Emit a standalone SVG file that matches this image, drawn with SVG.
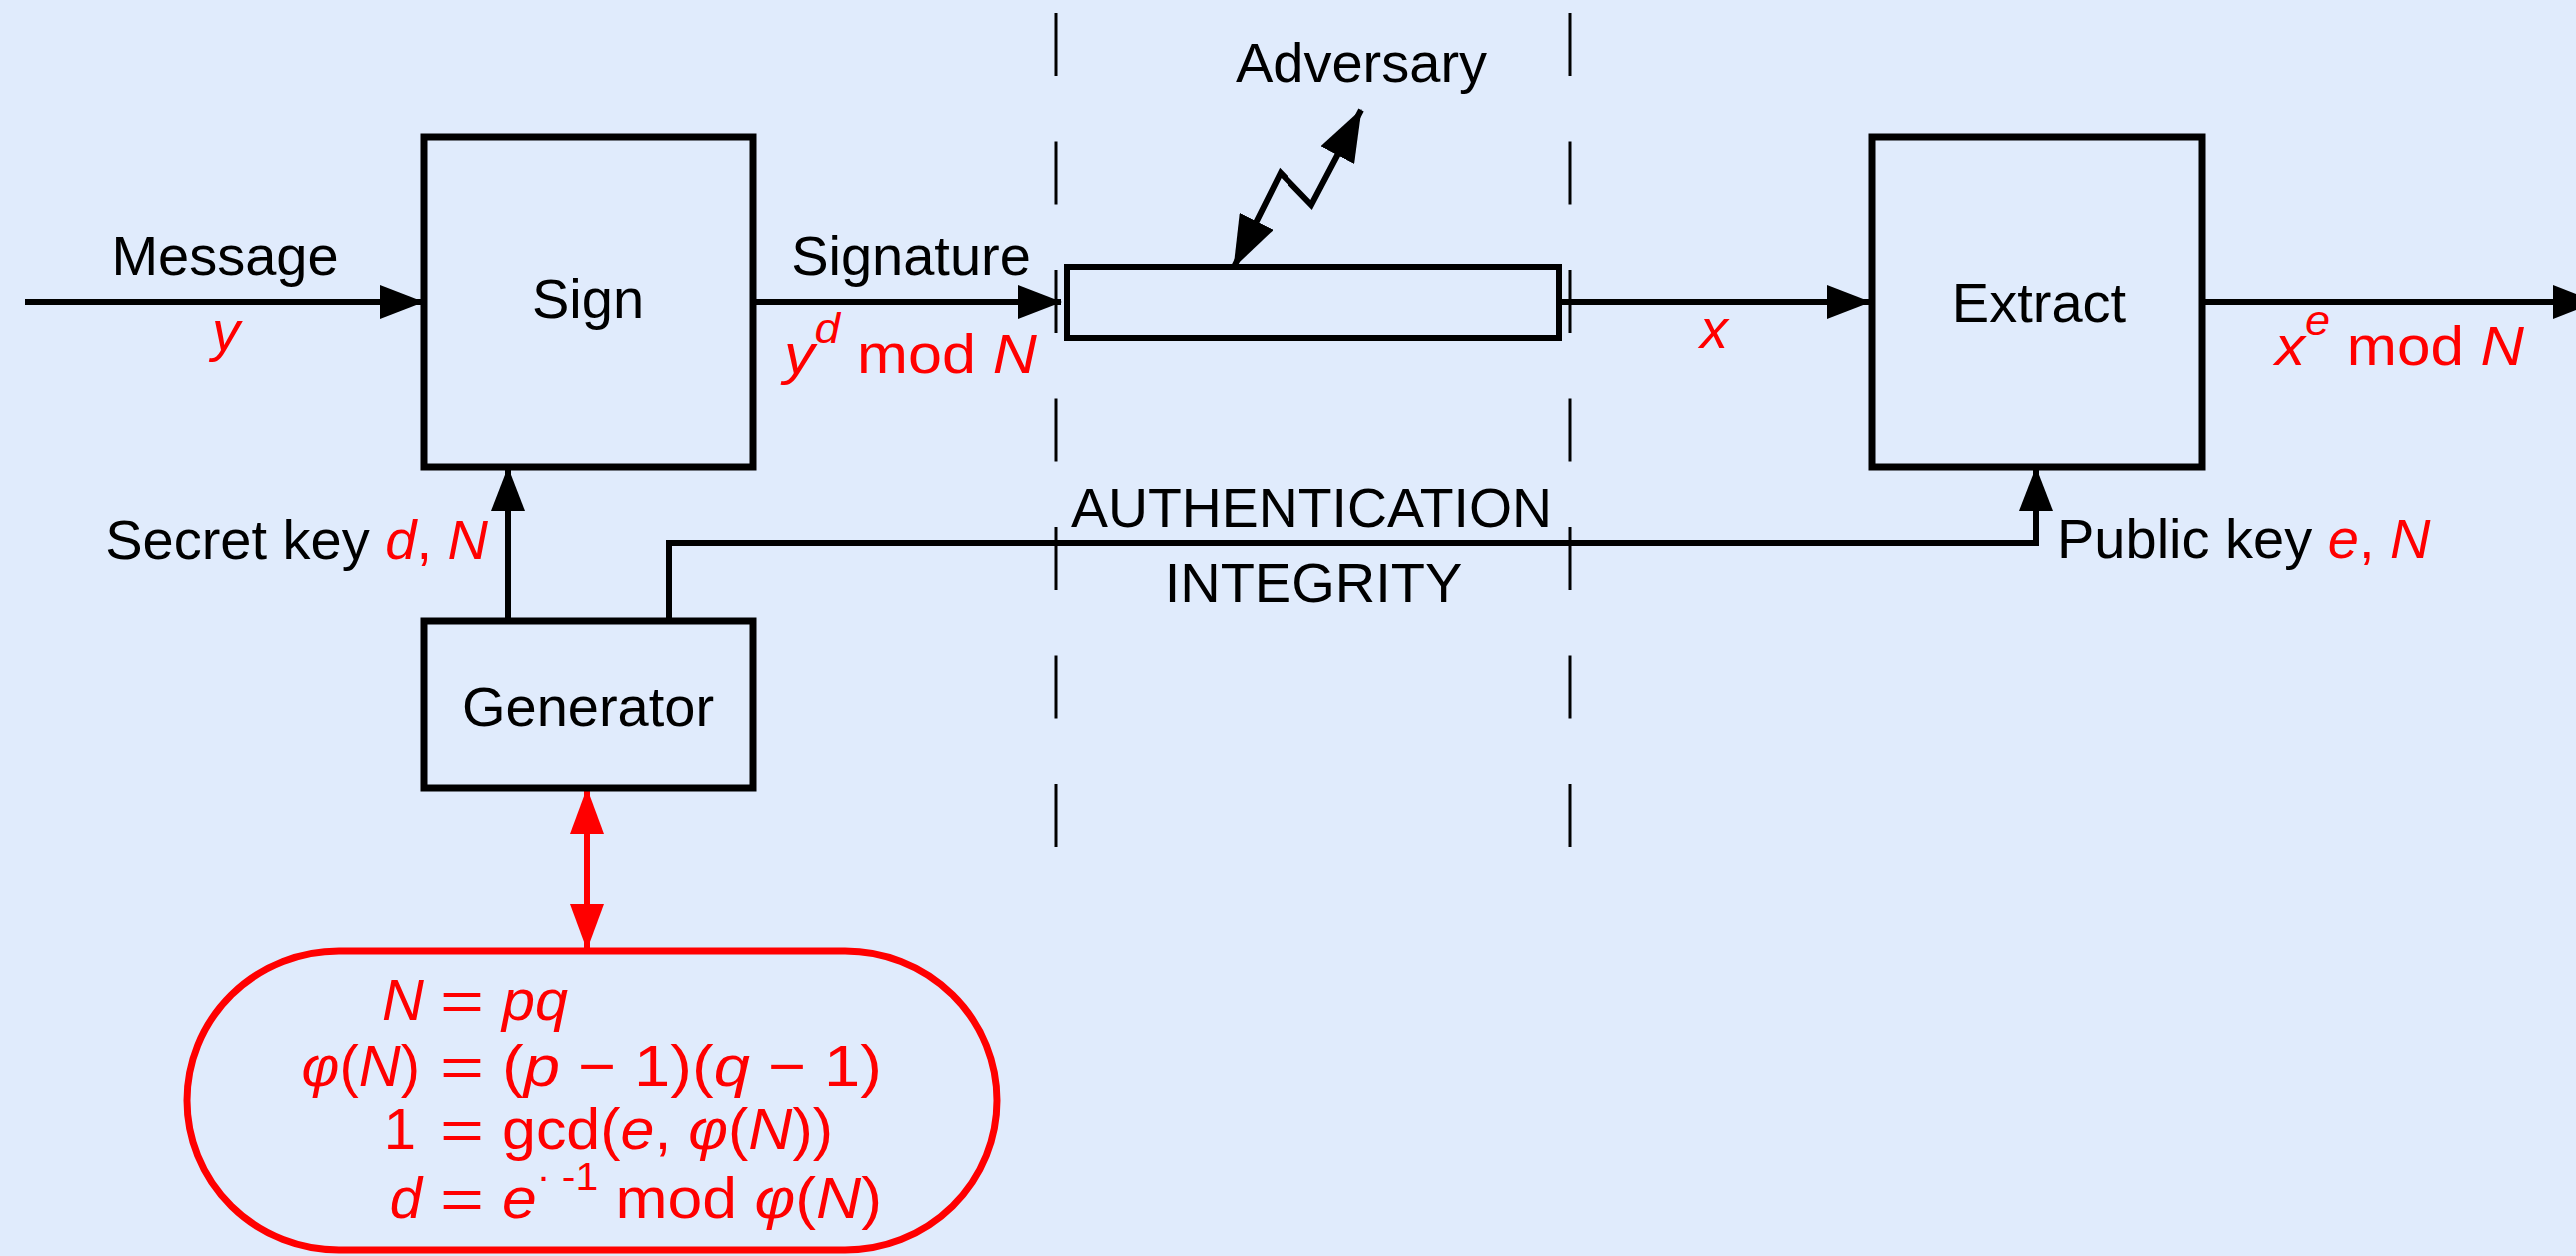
<svg xmlns="http://www.w3.org/2000/svg" width="2577" height="1256" viewBox="0 0 2577 1256">
<defs>
<style>
text{font-family:"Liberation Sans",Arial,sans-serif;font-size:56px;fill:#000}
.r{fill:#f00}
.i{font-style:italic}
.c{text-anchor:middle}
.box{fill:none;stroke:#000;stroke-width:7}
.ln{fill:none;stroke:#000;stroke-width:6}
.rl{fill:none;stroke:#f00;stroke-width:6}
.dash{fill:none;stroke:#000;stroke-width:3;stroke-dasharray:63 65.5}
.f{font-size:58px}
.eq{font-size:56px;text-anchor:middle}
</style>
<marker id="ah" viewBox="0 0 44 34" refX="43" refY="17" markerWidth="44" markerHeight="34" markerUnits="userSpaceOnUse" orient="auto-start-reverse"><path d="M0,0 L44,17 L0,34 Z" fill="#000"/></marker>
<marker id="ahz" viewBox="0 0 52 38" refX="51" refY="19" markerWidth="52" markerHeight="38" markerUnits="userSpaceOnUse" orient="auto-start-reverse"><path d="M0,0 L52,19 L0,38 Z" fill="#000"/></marker>
<marker id="ahr" viewBox="0 0 46 34" refX="45" refY="17" markerWidth="46" markerHeight="34" markerUnits="userSpaceOnUse" orient="auto-start-reverse"><path d="M0,0 L46,17 L0,34 Z" fill="#f00"/></marker>
</defs>
<rect width="2577" height="1256" fill="#E0EBFC"/>

<g id="boundaries">
<line class="dash" x1="1056" y1="13" x2="1056" y2="850"/>
<line class="dash" x1="1571" y1="13" x2="1571" y2="850"/>
</g>

<g id="connectors">
<line class="ln" x1="25" y1="302" x2="423" y2="302" marker-end="url(#ah)"/>
<line class="ln" x1="753" y1="302" x2="1061" y2="302" marker-end="url(#ah)"/>
<line class="ln" x1="1560" y1="302" x2="1871" y2="302" marker-end="url(#ah)"/>
<line class="ln" x1="2203" y1="302" x2="2597" y2="302" marker-end="url(#ah)"/>
<line class="ln" x1="508" y1="621" x2="508" y2="468" marker-end="url(#ah)"/>
<path class="ln" d="M669,621 V543 H2037 V468" marker-end="url(#ah)"/>
<polyline class="ln" points="1234,267 1281,173 1312,205 1362,110" marker-start="url(#ahz)" marker-end="url(#ahz)"/>
<line class="rl" x1="587" y1="789" x2="587" y2="949" marker-start="url(#ahr)" marker-end="url(#ahr)"/>
</g>

<g id="sign">
<rect class="box" x="424" y="137" width="329" height="330"/>
<text class="c" x="588" y="318">Sign</text>
</g>

<g id="channel">
<rect class="box" x="1067" y="267" width="493" height="71" style="stroke-width:6"/>
</g>

<g id="extract">
<rect class="box" x="1873" y="137" width="330" height="330"/>
<text class="c" x="2040" y="322">Extract</text>
</g>

<g id="generator">
<rect class="box" x="424" y="621" width="329" height="167"/>
<text class="c" x="588" y="726">Generator</text>
</g>

<g id="params">
<rect x="187" y="951" width="810" height="299" rx="152" ry="152" fill="none" stroke="#f00" stroke-width="7"/>

<text class="r i f" x="424" y="1020" text-anchor="end">N</text>
<text class="r eq" x="462" y="1020" textLength="44" lengthAdjust="spacingAndGlyphs">=</text>
<text class="r i f" x="502" y="1020" textLength="66" lengthAdjust="spacingAndGlyphs">pq</text>

<text class="r f" x="420" y="1086" text-anchor="end"><tspan class="i">φ</tspan>(<tspan class="i">N</tspan>)</text>
<text class="r eq" x="462" y="1086" textLength="44" lengthAdjust="spacingAndGlyphs">=</text>
<text class="r f" x="502" y="1086" textLength="380" lengthAdjust="spacingAndGlyphs">(<tspan class="i">p</tspan> − 1)(<tspan class="i">q</tspan> − 1)</text>

<text class="r f" x="416" y="1149" text-anchor="end">1</text>
<text class="r eq" x="462" y="1149" textLength="44" lengthAdjust="spacingAndGlyphs">=</text>
<text class="r f" x="502" y="1149" textLength="331" lengthAdjust="spacingAndGlyphs">gcd(<tspan class="i">e</tspan>, <tspan class="i">φ</tspan>(<tspan class="i">N</tspan>))</text>

<text class="r i f" x="422" y="1218" text-anchor="end">d</text>
<text class="r eq" x="462" y="1218" textLength="44" lengthAdjust="spacingAndGlyphs">=</text>
<text class="r f" x="502" y="1218" textLength="380" lengthAdjust="spacingAndGlyphs"><tspan class="i">e</tspan><tspan dy="-28" style="font-size:38px">· -1</tspan><tspan dy="28">  mod </tspan><tspan class="i">φ</tspan>(<tspan class="i">N</tspan>)</text>
</g>

<g id="labels">
<text class="c" x="225" y="275">Message</text>
<text class="r i c" x="226" y="350">y</text>
<text class="c" x="911" y="275">Signature</text>
<text class="r" x="784" y="373" textLength="253" lengthAdjust="spacingAndGlyphs"><tspan class="i">y</tspan><tspan class="i" dy="-30" style="font-size:42px">d</tspan><tspan dy="30">  mod </tspan><tspan class="i">N</tspan></text>
<text class="c" x="1362" y="82">Adversary</text>
<text class="r i c" x="1715" y="348">x</text>
<text class="r" x="2276" y="365" textLength="249" lengthAdjust="spacingAndGlyphs"><tspan class="i">x</tspan><tspan class="i" dy="-30" style="font-size:42px">e</tspan><tspan dy="30">  mod </tspan><tspan class="i">N</tspan></text>
<text x="488" y="559" text-anchor="end">Secret key <tspan class="r i">d</tspan><tspan class="r">, </tspan><tspan class="r i">N</tspan></text>
<text x="2058" y="558">Public key <tspan class="r i">e</tspan><tspan class="r">, </tspan><tspan class="r i">N</tspan></text>
<text class="c" x="1312" y="527" textLength="482" lengthAdjust="spacingAndGlyphs">AUTHENTICATION</text>
<text class="c" x="1314" y="602">INTEGRITY</text>
</g>
</svg>
